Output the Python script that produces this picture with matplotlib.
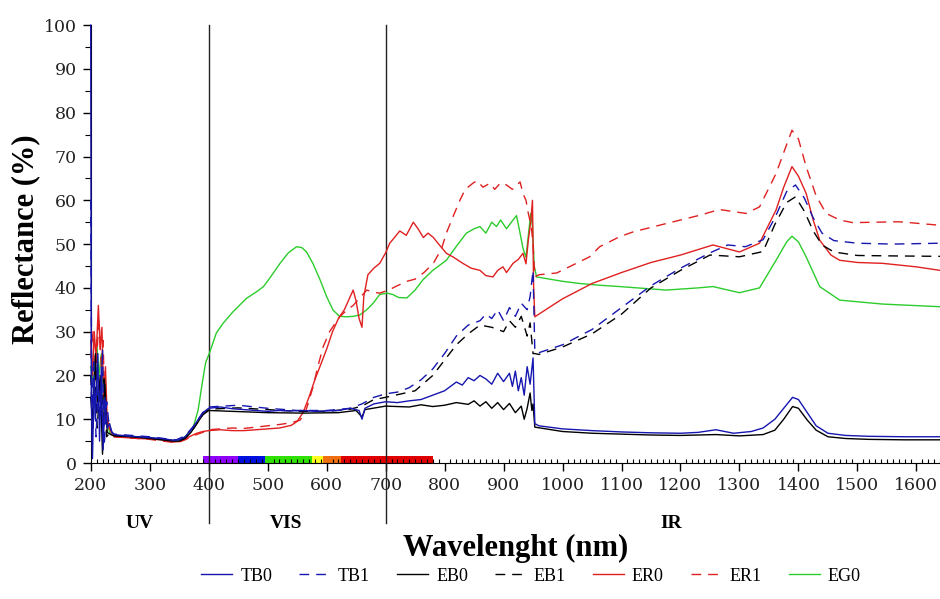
import numpy as np
import matplotlib
matplotlib.use("Agg")
import matplotlib.pyplot as plt
from matplotlib.ticker import MultipleLocator

# reflectance spectra (%), one wavelength grid per sample
wl_tb0 = [200, 201, 203, 206, 208, 212, 215, 218, 221, 224, 228, 232, 236, 240, 260, 280, 300, 320, 340,
          350, 360, 370, 380, 390, 400, 420, 440, 460, 480, 500, 520, 540, 560, 580, 600, 620, 640, 655,
          660, 665, 680, 700, 720, 740, 760, 780, 800, 810, 820, 830, 840, 850, 860, 870, 880, 890, 900,
          910, 915, 920, 925, 930, 935, 940, 945, 950, 953, 960, 1000, 1050, 1100, 1150, 1200, 1230, 1260,
          1290, 1320, 1340, 1360, 1375, 1390, 1400, 1415, 1430, 1450, 1480, 1520, 1580, 1640]
tb0 = [100, 15, 1, 20, 10, 25, 5, 22, 3, 15, 8, 9, 7, 6.5, 6.2, 6.0, 5.8, 5.6, 5.2,
       5.3, 6.0, 7.5, 9.5, 11.5, 12.5, 12.8, 12.4, 12.2, 12.0, 11.8, 12.0, 11.9, 12.0, 11.8, 11.9, 12.0, 12.5, 12.0,
       10.0, 12.5, 13.5, 14.0, 13.8, 14.2, 14.5, 15.5, 16.5, 17.5, 18.5, 17.8, 19.5, 18.8, 20.0, 19.2, 18.0, 20.5, 18.6,
       20.5, 17.5, 21.0, 16.5, 19.5, 15.5, 22.0, 18.0, 24.0, 9.0, 8.5, 7.8, 7.4, 7.1, 6.9, 6.8, 7.0, 7.6,
       6.8, 7.2, 8.0, 10.0, 12.5, 15.0, 14.5, 11.5, 8.5, 6.8, 6.3, 6.1, 6.0, 6.0]

wl_tb1 = [200, 202, 205, 209, 213, 217, 220, 223, 227, 231, 236, 240, 270, 300, 330, 345, 360, 375, 390,
          400, 450, 500, 550, 600, 640, 660, 680, 700, 720, 740, 760, 780, 800, 820, 840, 860, 870, 880,
          890, 900, 910, 920, 930, 940, 945, 950, 953, 960, 1000, 1050, 1100, 1150, 1200, 1250, 1280, 1310,
          1340, 1360, 1380, 1395, 1410, 1425, 1440, 1460, 1500, 1560, 1640]
tb1 = [60, 12, 24, 6, 18, 10, 26, 4, 14, 9, 7, 6.6, 6.3, 6.0, 5.5, 5.3, 6.2, 8.5, 11.5,
       12.8, 13.2, 12.5, 12.0, 12.0, 12.5, 13.5, 15.0, 15.8, 16.2, 17.2, 19.0, 21.5, 25.0, 29.0, 31.5, 32.5, 34.0, 33.0,
       35.0, 32.5, 35.5, 33.5, 36.5, 35.0, 38.0, 44.0, 25.5, 25.2, 27.0, 30.5, 35.5, 40.5, 44.5, 48.0, 49.8, 49.4,
       51.0, 56.0, 62.0, 63.5, 60.5, 56.0, 52.5, 50.8, 50.2, 50.0, 50.2]

wl_eb0 = [200, 204, 208, 212, 216, 220, 224, 228, 234, 240, 270, 300, 340, 350, 360, 370, 380, 390, 400,
          440, 500, 560, 620, 650, 660, 665, 700, 740, 760, 780, 800, 820, 840, 850, 860, 870, 880, 890,
          900, 910, 920, 930, 935, 940, 945, 948, 950, 953, 1000, 1050, 1100, 1150, 1200, 1260, 1300, 1340,
          1360, 1375, 1390, 1400, 1415, 1430, 1450, 1480, 1520, 1580, 1640]
eb0 = [15, 8, 25, 12, 20, 2, 18, 7, 6.5, 6.2, 6.0, 5.6, 5.0, 5.0, 5.6, 7.0, 9.0, 11.0, 12.0,
       11.8, 11.5, 11.4, 11.5, 12.0, 10.5, 12.2, 13.0, 12.8, 13.3, 12.9, 13.2, 13.8, 13.4, 14.2, 13.0, 14.0, 12.5, 13.8,
       12.2, 13.6, 11.5, 13.0, 10.0, 12.5, 16.0, 12.0, 13.5, 8.2, 7.2, 6.8, 6.6, 6.4, 6.3, 6.5, 6.2, 6.5,
       7.5, 10.0, 12.9, 12.5, 9.8, 7.5, 6.0, 5.6, 5.4, 5.3, 5.3]

wl_eb1 = [200, 203, 207, 211, 215, 219, 223, 227, 233, 240, 270, 300, 340, 350, 360, 375, 390, 400,
          450, 500, 550, 600, 640, 660, 680, 700, 750, 780, 800, 820, 840, 860, 880, 900, 910, 920,
          930, 940, 945, 950, 953, 960, 1000, 1050, 1100, 1150, 1200, 1250, 1300, 1340, 1360, 1380, 1395,
          1410, 1425, 1440, 1460, 1500, 1560, 1640]
eb1 = [20, 10, 22, 8, 16, 12, 20, 6, 7, 6.3, 6.0, 5.7, 5.2, 5.1, 5.8, 8.0, 11.0, 12.3,
       12.6, 12.2, 11.8, 11.8, 12.3, 13.0, 14.5, 15.0, 16.5, 20.0, 23.5, 27.0, 29.5, 31.5, 31.0, 30.0, 32.5, 31.0,
       33.5, 29.0, 32.0, 25.0, 25.0, 24.8, 26.5, 29.5, 34.0, 40.0, 44.0, 47.5, 47.1, 48.3, 54.5, 59.5, 60.8,
       57.5, 53.0, 49.8, 48.2, 47.4, 47.3, 47.2]

wl_er0 = [200, 203, 206, 209, 213, 216, 219, 222, 225, 228, 232, 236, 240, 260, 280, 300, 320, 340, 350,
          360, 370, 380, 390, 400, 420, 440, 460, 480, 500, 520, 540, 550, 560, 570, 580, 590, 600, 610,
          620, 630, 640, 645, 650, 655, 660, 663, 670, 680, 690, 700, 707, 715, 724, 735, 747, 755, 764,
          772, 781, 790, 803, 815, 831, 845, 860, 870, 882, 890, 899, 905, 916, 925, 933, 938, 942, 946,
          949, 951, 953, 1000, 1050, 1100, 1150, 1200, 1255, 1300, 1334, 1362, 1375, 1389, 1400, 1413, 1425,
          1436, 1455, 1470, 1500, 1543, 1600, 1640]
er0 = [28, 20, 30, 24, 36, 26, 31, 15, 22, 10, 8, 6.5, 6.0, 5.8, 5.6, 5.5, 5.3, 4.8, 4.9,
       5.5, 6.2, 6.8, 7.2, 7.4, 7.6, 7.4, 7.4, 7.6, 7.8, 8.0, 8.6, 9.5, 11.5, 15.0, 19.0, 22.5, 26.0, 30.0,
       33.0, 35.0, 38.0, 39.5, 37.0, 33.0, 31.0, 38.0, 43.0, 44.5, 45.6, 48.0, 50.2, 51.5, 53.0, 52.0, 55.0, 53.5, 51.5,
       52.5, 51.5, 50.0, 47.9, 47.0, 45.6, 44.5, 44.0, 42.8, 42.5, 44.0, 44.8, 43.5, 45.6, 46.5, 47.9, 45.5, 50.9, 55.0,
       60.0, 40.0, 33.4, 37.5, 41.0, 43.5, 45.8, 47.5, 49.8, 48.2, 50.2, 57.8, 63.0, 67.7, 65.5, 61.6, 55.5,
       50.9, 47.5, 46.3, 45.8, 45.6, 44.8, 44.0]

wl_er1 = [200, 204, 207, 211, 214, 218, 221, 224, 229, 234, 240, 270, 300, 340, 350, 360, 375, 390,
          400, 420, 440, 460, 480, 500, 520, 540, 555, 565, 577, 585, 594, 605, 622, 635, 645, 655, 668,
          680, 690, 705, 720, 736, 750, 765, 781, 795, 803, 815, 826, 835, 848, 855, 865, 877, 885, 895,
          905, 915, 928, 933, 938, 942, 947, 950, 953, 960, 990, 1046, 1063, 1097, 1120, 1176, 1233, 1266,
          1311, 1334, 1362, 1378, 1389, 1400, 1413, 1430, 1447, 1470, 1492, 1571, 1640]
er1 = [24, 30, 18, 26, 33, 22, 28, 12, 9, 7, 6.0, 5.7, 5.4, 4.7, 4.8, 5.3, 6.3, 7.0,
       7.6, 7.8, 8.0, 7.9, 8.2, 8.5, 8.8, 9.2, 9.8, 12.0, 17.4, 22.0, 26.5, 30.0, 33.4, 35.0, 36.0, 37.5, 39.5,
       39.0, 38.8, 39.5, 40.5, 41.5, 42.0, 43.5, 45.6, 49.0, 52.5, 56.5, 60.0, 62.5, 63.9, 64.5, 63.0, 63.9, 62.5, 64.0,
       63.5, 62.5, 64.2, 61.5, 60.0, 57.0, 54.0, 50.0, 42.5, 43.0, 43.4, 47.1, 49.4, 51.7, 52.8, 54.7, 56.6, 57.9,
       57.0, 58.5, 66.1, 72.0, 76.0, 74.0, 67.7, 61.0, 57.0, 55.5, 54.9, 55.1, 54.3]

wl_eg0 = [200, 205, 210, 214, 218, 222, 226, 232, 236, 240, 270, 300, 340, 350, 360, 374, 382, 390,
          395, 401, 413, 425, 441, 464, 480, 493, 505, 521, 535, 549, 558, 566, 577, 589, 600, 611, 622,
          634, 645, 656, 668, 679, 690, 702, 712, 722, 736, 750, 763, 780, 803, 820, 837, 850, 860, 870,
          880, 888, 895, 905, 916, 922, 928, 933, 938, 942, 946, 949, 952, 956, 1000, 1029, 1063, 1097,
          1176, 1230, 1255, 1300, 1334, 1362, 1380, 1389, 1400, 1413, 1436, 1470, 1543, 1640]
eg0 = [22, 18, 28, 20, 25, 14, 10, 7, 6.5, 6.2, 6.0, 5.7, 5.0, 5.2, 6.0, 8.3, 12.0, 19.0,
       23.0, 25.0, 29.7, 32.0, 34.5, 37.6, 39.0, 40.3, 42.5, 45.6, 48.0, 49.4, 49.2, 48.2, 45.5, 41.8, 38.0, 34.9, 33.5,
       33.4, 33.5, 33.8, 35.0, 36.5, 38.5, 38.8, 38.5, 37.8, 37.7, 39.5, 41.8, 44.0, 46.3, 49.5, 52.5, 53.5, 54.0, 52.5,
       55.0, 54.0, 55.5, 53.5, 55.5, 56.5, 52.5, 49.0, 47.0, 52.0, 57.0, 54.0, 45.0, 42.5, 41.5, 41.0, 40.6, 40.3,
       39.5, 40.0, 40.3, 38.9, 40.0, 46.3, 50.5, 51.8, 50.5, 47.1, 40.3, 37.2, 36.3, 35.7]

# visible spectrum strip along the x axis
band_edges = [390, 450, 495, 575, 594, 625, 781]
band_colors = ["#8f00ff", "#0010e0", "#30e000", "#ffff20", "#f07010", "#e00000"]

series = [
    ("TB0", wl_tb0, tb0, "#1616b0", "-"),
    ("TB1", wl_tb1, tb1, "#1616b0", "--"),
    ("EB0", wl_eb0, eb0, "black", "-"),
    ("EB1", wl_eb1, eb1, "black", "--"),
    ("ER0", wl_er0, er0, "#e02020", "-"),
    ("ER1", wl_er1, er1, "#e02020", "--"),
    ("EG0", wl_eg0, eg0, "#2ccc2c", "-"),
]

fig = plt.figure(figsize=(9.4, 5.99), dpi=100)
ax = fig.add_axes([0.0965, 0.227, 0.9035, 0.731])

handles = {}
for name, x, y, color, ls in reversed(series):
    # drawn over the spines, so the spectra cover the y axis near 200 nm
    line, = ax.plot(x, y, color=color, lw=1.0, label=name, zorder=3, clip_on=False)
    if ls == "--":
        line.set_dashes((7, 5))
    handles[name] = line

for lo, hi, c in zip(band_edges[:-1], band_edges[1:], band_colors):
    ax.bar(lo, 1.6, width=hi - lo, bottom=0, align="edge", color=c, lw=0, zorder=1)

# region separators run below the axis
for xv in (400, 700):
    ax.plot([xv, xv], [-0.137, 1.0], color="#222222", lw=1.0,
            transform=ax.get_xaxis_transform(), clip_on=False)

for txt, xv in (("UV", 283), ("VIS", 532), ("IR", 1185)):
    ax.text(xv, -0.139, txt, transform=ax.get_xaxis_transform(), ha="center", va="center",
            family="Liberation Serif", fontweight="bold", fontsize=14)

ax.set_xlim(200, 1640)
ax.set_ylim(0, 100)
ax.xaxis.set_major_locator(MultipleLocator(100))
ax.xaxis.set_minor_locator(MultipleLocator(10))
ax.yaxis.set_major_locator(MultipleLocator(10))
ax.yaxis.set_minor_locator(MultipleLocator(5))
ax.tick_params(axis="both", which="major", direction="out", length=6, width=1, labelsize=12.5, pad=4)
ax.tick_params(axis="x", which="minor", direction="in", length=3, width=0.8)
ax.tick_params(axis="y", which="minor", direction="out", length=4, width=0.8)
for lab in ax.get_xticklabels() + ax.get_yticklabels():
    lab.set_family("DejaVu Serif")
    lab.set_color("#222222")
for side in ("top", "right"):
    ax.spines[side].set_visible(False)

fig.text(0.549, 0.085, "Wavelenght (nm)", ha="center", va="center",
         family="Liberation Serif", fontweight="bold", fontsize=22)
fig.text(0.027, 0.6, "Reflectance (%)", ha="center", va="center", rotation=90,
         family="Liberation Serif", fontweight="bold", fontsize=22)

order = ["TB0", "TB1", "EB0", "EB1", "ER0", "ER1", "EG0"]
fig.legend([handles[k] for k in order], order, loc="center", bbox_to_anchor=(0.565, 0.038),
           ncol=7, frameon=False, prop={"family": "Liberation Serif", "size": 13},
           handlelength=1.7, handletextpad=0.45, columnspacing=1.5)

fig.savefig("out.png", dpi=100)
